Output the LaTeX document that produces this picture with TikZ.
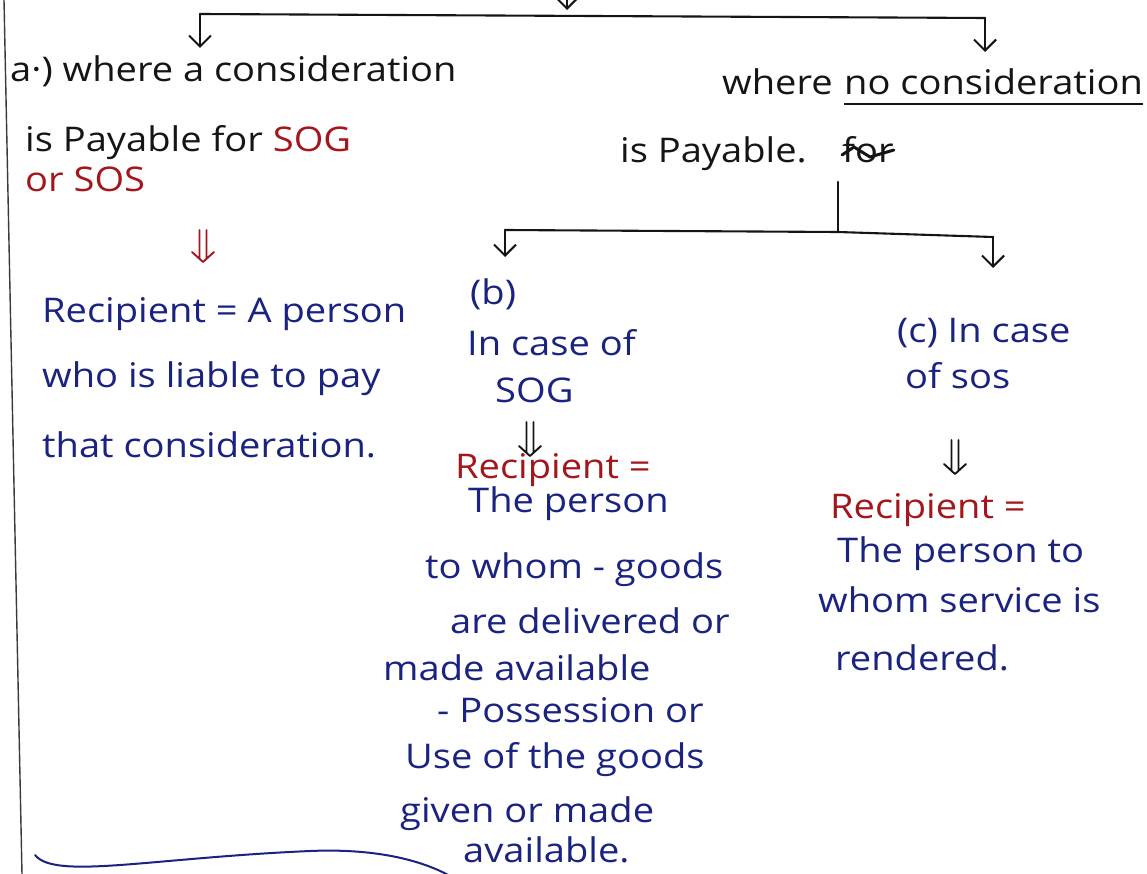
\documentclass[tikz,border=0pt]{standalone}
\usepackage{fontspec}
\setmainfont[FakeStretch=1.12]{Open Sans}
\usetikzlibrary{arrows.meta}
\definecolor{inkblue}{HTML}{1B2380}
\definecolor{inkred}{HTML}{A3161C}
\definecolor{inkblack}{HTML}{151515}
\definecolor{rule}{HTML}{3A3A3A}
\begin{document}
\begin{tikzpicture}[x=1pt,y=-1pt,
  hand/.style={anchor=base west, inner sep=0pt, font=\fontsize{34}{40}\selectfont},
  bluet/.style={hand, text=inkblue},
  redt/.style={hand, text=inkred},
  blackt/.style={hand, text=inkblack},
  wire/.style={draw=inkblack, line width=2.1pt, line cap=round, line join=round},
  drop/.style={wire, -{Straight Barb[length=11pt,width=22pt,line width=2.1pt]}},
  dblpen/.style={line width=1.9pt, line cap=round, line join=round},
]
\useasboundingbox (0,0) rectangle (1147,874);
\fill[white] (0,0) rectangle (1147,874);

% margin line and closing stroke
\draw[rule, line width=1.4pt] (4,0) -- (22,874);
\draw[inkblue, line width=2pt, line cap=round] (35,855) .. controls (55,880) and (150,858) .. (310,851) .. controls (380,848) and (425,862) .. (450,876);

% ---- top split ----
\coordinate (topin) at (567,-12);
\coordinate (topmid) at (567,10);
\coordinate (topL) at (200,14);
\coordinate (topR) at (985,18);
\coordinate (tipL) at (200,48);
\coordinate (tipR) at (985,52);
\draw[drop] (topin) -- (topmid);
\draw[wire] (topL) -- (topR);
\draw[drop] (topL) -- (tipL);
\draw[drop] (topR) -- (tipR);

% ---- case (a) ----
\node[blackt] (a1) at (10,82) {a·) where a consideration};
\node[blackt] (a2) at (25,152) {is Payable for \textcolor{inkred}{SOG}};
\node[redt] (a3) at (25,192) {or SOS};
\coordinate (ar1) at (203,230);
\coordinate (ar2) at (203,262);
\draw[dblpen, inkred] ([xshift=-3.5pt]ar1) -- ([xshift=-3.5pt,yshift=4pt]ar2)
  ([xshift=3.5pt]ar1) -- ([xshift=3.5pt,yshift=4pt]ar2)
  ([xshift=-11pt,yshift=10pt]ar2) -- (ar2) -- ([xshift=11pt,yshift=10pt]ar2);
\node[bluet] (ra1) at (42,322) {Recipient = A person};
\node[bluet] (ra2) at (42,387) {who is liable to pay};
\node[bluet] (ra3) at (42,457) {that consideration.};

% ---- no consideration ----
\node[blackt] (n1) at (722,95) {where};
\node[blackt] (n2) at (844,95) {no consideration};
\draw[inkblack, line width=1.8pt] ([yshift=-9pt]n2.base west) -- ([yshift=-9pt]n2.base east);
\node[blackt] (n3) at (620,163) {is Payable.};
\node[blackt] (n4) at (842,163) {for};
\draw[inkblack, line width=3pt, line cap=round, line join=round]
  ([yshift=8pt]n4.base west) -- ([yshift=16pt,xshift=12pt]n4.base west)
  -- ([yshift=6pt,xshift=28pt]n4.base west) -- ([yshift=13pt]n4.base east);

% second split
\coordinate (sp0) at (838,182);
\coordinate (sp1) at (838,232);
\coordinate (spL) at (505,230);
\coordinate (spR) at (993,237);
\coordinate (tipb) at (505,257);
\coordinate (tipc) at (993,268);
\draw[wire] (sp0) -- (sp1);
\draw[wire] (spL) -- (sp1) -- (spR);
\draw[drop] (spL) -- (tipb);
\draw[drop] (spR) -- (tipc);

% ---- case (b) ----
\node[bluet] (b1) at (470,305) {(b)};
\node[bluet] (b2) at (467,355) {In case of};
\node[bluet] (b3) at (495,402) {SOG};
\coordinate (br1) at (530,422);
\coordinate (br2) at (530,456);
\draw[dblpen, inkblack] ([xshift=-3.5pt]br1) -- ([xshift=-3.5pt,yshift=4pt]br2)
  ([xshift=3.5pt]br1) -- ([xshift=3.5pt,yshift=4pt]br2)
  ([xshift=-11pt,yshift=10pt]br2) -- (br2) -- ([xshift=11pt,yshift=10pt]br2);
\node[redt] (rb0) at (455,478) {Recipient =};
\node[bluet] (rb1) at (468,512) {The person};
\node[bluet] (rb2) at (425,578) {to whom - goods};
\node[bluet] (rb3) at (450,633) {are delivered or};
\node[bluet] (rb4) at (383,680) {made available};
\node[bluet] (rb5) at (437,722) {- Possession or};
\node[bluet] (rb6) at (405,768) {Use of the goods};
\node[bluet] (rb7) at (400,822) {given or made};
\node[bluet] (rb8) at (463,862) {available.};

% ---- case (c) ----
\node[bluet] (c1) at (897,342) {(c) In case};
\node[bluet] (c2) at (905,388) {of sos};
\coordinate (cr1) at (955,440);
\coordinate (cr2) at (955,474);
\draw[dblpen, inkblack] ([xshift=-3.5pt]cr1) -- ([xshift=-3.5pt,yshift=4pt]cr2)
  ([xshift=3.5pt]cr1) -- ([xshift=3.5pt,yshift=4pt]cr2)
  ([xshift=-11pt,yshift=10pt]cr2) -- (cr2) -- ([xshift=11pt,yshift=10pt]cr2);
\node[redt] (rc0) at (830,518) {Recipient =};
\node[bluet] (rc1) at (837,562) {The person to};
\node[bluet] (rc2) at (818,612) {whom service is};
\node[bluet] (rc3) at (835,670) {rendered.};
\end{tikzpicture}
\end{document}
